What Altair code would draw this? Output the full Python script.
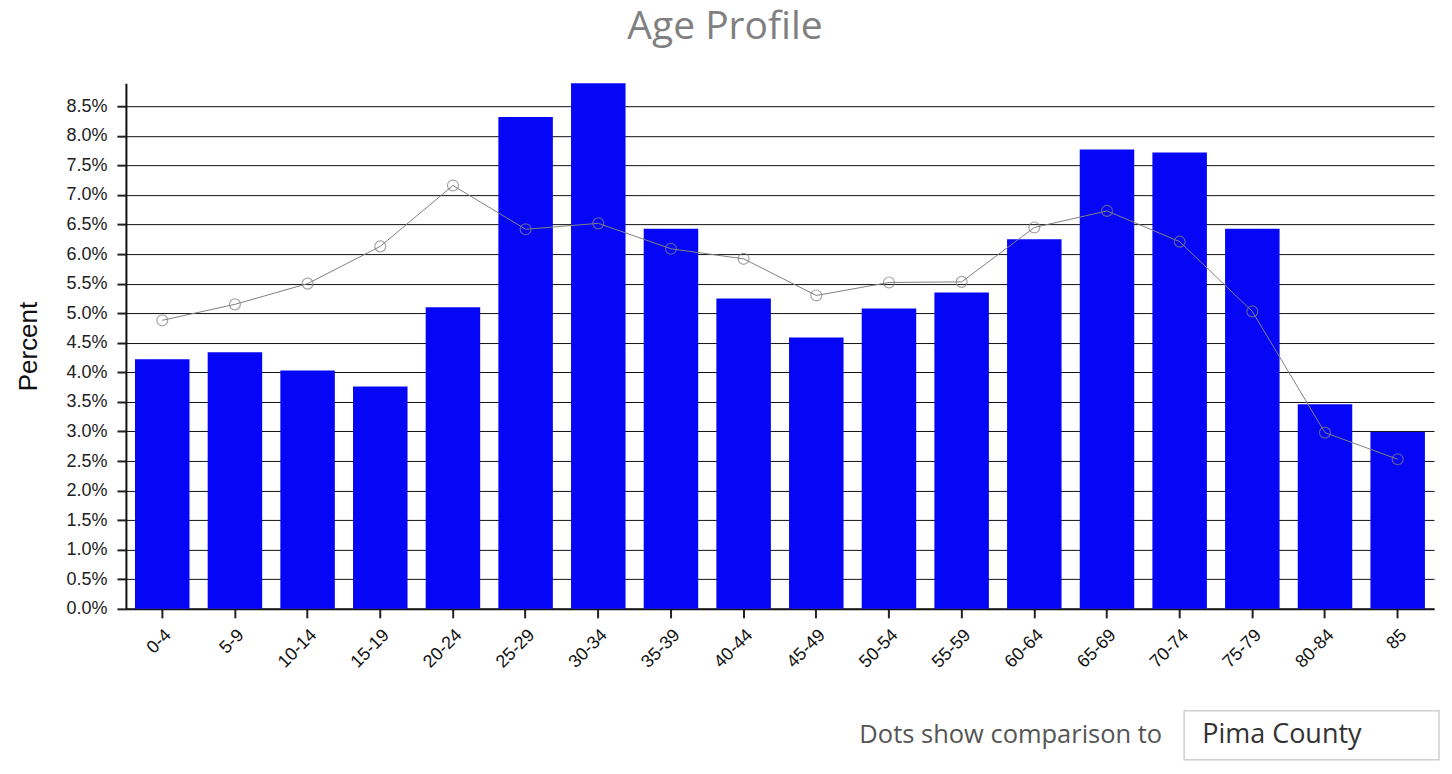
import altair as alt
import pandas as pd

ages = ["0-4", "5-9", "10-14", "15-19", "20-24", "25-29", "30-34", "35-39", "40-44",
        "45-49", "50-54", "55-59", "60-64", "65-69", "70-74", "75-79", "80-84", "85"]
area_pct = [4.22, 4.34, 4.03, 3.76, 5.10, 8.32, 8.89, 6.43, 5.25,
            4.59, 5.08, 5.35, 6.25, 7.77, 7.72, 6.43, 3.46, 2.99]
county_pct = [4.88, 5.15, 5.50, 6.13, 7.16, 6.42, 6.52, 6.09, 5.92,
              5.30, 5.52, 5.53, 6.45, 6.73, 6.21, 5.03, 2.98, 2.53]
y_ticks = [i * 0.5 for i in range(18)]

df = pd.DataFrame({"age": ages, "area": area_pct, "county": county_pct})

W, H = 1309, 526
FONT = "Liberation Sans"

x_axis = alt.Axis(labelAngle=-45, labelAlign="right", labelBaseline="top",
                  labelFontSize=18, labelColor="#111", labelFont=FONT,
                  labelPadding=8, tickSize=9, tickColor="#222", tickWidth=2,
                  domainColor="#111", domainWidth=2, grid=False,
                  labelOverlap=False)
x_scale = alt.Scale(paddingInner=0.25, paddingOuter=0.125)
y_axis = alt.Axis(values=y_ticks, labelExpr="format(datum.value, '.1f') + '%'",
                  labelFontSize=18, labelColor="#222", labelFont=FONT,
                  labelOverlap=False, labelPadding=10,
                  titleFontSize=26, titleFont=FONT, titleColor="#111",
                  titleFontWeight="normal", titlePadding=24,
                  tickSize=9, tickColor="#222", tickWidth=2,
                  domainColor="#111", domainWidth=2,
                  grid=True, gridColor="#111", gridWidth=1)
y_scale = alt.Scale(domain=[0, 8.89], nice=False)

x_enc = alt.X("age:N", sort=ages, title=None, scale=x_scale, axis=x_axis)

bars = alt.Chart(df).mark_bar(color="#0606f6").encode(
    x=x_enc,
    y=alt.Y("area:Q", scale=y_scale, title="Percent", axis=y_axis),
)

line = alt.Chart(df).mark_line(color="#808080", strokeWidth=1).encode(
    x=x_enc, y=alt.Y("county:Q", scale=y_scale, title="Percent", axis=y_axis))
pts = alt.Chart(df).mark_point(shape="circle", filled=False, color="#808080",
                               size=120, strokeWidth=1.2).encode(
    x=x_enc, y=alt.Y("county:Q", scale=y_scale, title="Percent", axis=y_axis))

note = alt.Chart(pd.DataFrame({"t": ["Dots show comparison to"]})).mark_text(
    align="right", baseline="middle", font="Open Sans", fontSize=25.5, color="#555"
).encode(text="t:N", x=alt.value(1037), y=alt.value(652))

box = alt.Chart(pd.DataFrame({"k": [1]})).mark_rect(
    fill="white", stroke="#d0d0d0", strokeWidth=1.5
).encode(x=alt.value(1059), x2=alt.value(1314), y=alt.value(628), y2=alt.value(677))

box_text = alt.Chart(pd.DataFrame({"t": ["Pima County"]})).mark_text(
    align="left", baseline="middle", font="Open Sans", fontSize=27, color="#333"
).encode(text="t:N", x=alt.value(1077), y=alt.value(652))

chart = alt.layer(bars, line, pts, note, box, box_text).properties(
    width=W, height=H,
    title=alt.TitleParams("Age Profile", font="Open Sans", fontSize=39,
                          fontWeight="normal", color="#808080", anchor="middle",
                          dx=-55, offset=36),
    autosize=alt.AutoSizeParams(type="none"),
    padding={"left": 118, "top": 75, "right": 10, "bottom": 160},
).configure_view(stroke=None)

chart.save("out.html", embed_options={"renderer": "svg", "actions": False})
